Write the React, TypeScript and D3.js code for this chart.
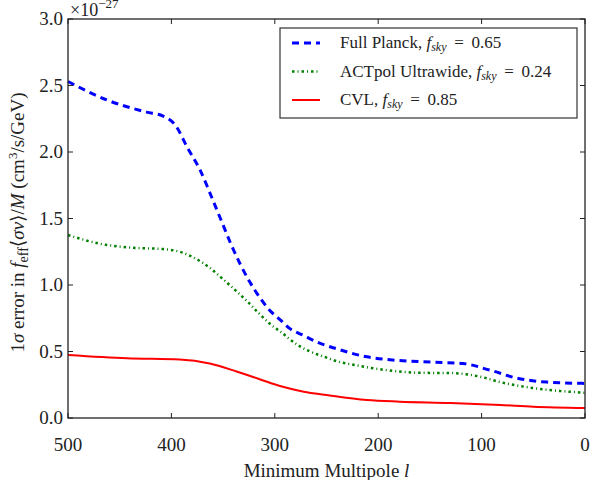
import { useEffect, useRef } from 'react';
import * as d3 from 'd3';

// minimum multipole vs 1-sigma error (units of 1e-27 cm^3/s/GeV)
const planckL = [500, 462, 424, 408, 396, 385, 372, 360, 351, 342, 333, 324, 314, 305, 295, 285, 272, 259, 240, 211, 186, 147, 118, 92, 66, 37, 0];
const planckErr = [2.53, 2.39, 2.30, 2.27, 2.20, 2.04, 1.86, 1.64, 1.47, 1.30, 1.15, 1.02, 0.90, 0.81, 0.74, 0.67, 0.62, 0.57, 0.52, 0.46, 0.436, 0.42, 0.41, 0.36, 0.30, 0.27, 0.26];

const actL = [500, 469, 437, 408, 392, 377, 363, 351, 338, 327, 317, 305, 293, 280, 266, 252, 237, 224, 192, 160, 130, 101, 82, 50, 0];
const actErr = [1.376, 1.31, 1.28, 1.27, 1.25, 1.20, 1.13, 1.05, 0.96, 0.88, 0.80, 0.71, 0.64, 0.56, 0.50, 0.46, 0.42, 0.40, 0.36, 0.34, 0.338, 0.31, 0.27, 0.225, 0.19];

const cvlL = [500, 443, 392, 363, 337, 314, 295, 272, 250, 211, 179, 130, 82, 50, 0];
const cvlErr = [0.474, 0.449, 0.44, 0.41, 0.35, 0.29, 0.24, 0.198, 0.173, 0.135, 0.123, 0.113, 0.098, 0.085, 0.075];

const xTicks = [500, 400, 300, 200, 100, 0];
const yTicks = [0, 0.5, 1.0, 1.5, 2.0, 2.5, 3.0];

const series = [
  { name: 'Full Planck, ', fsky: '0.65', l: planckL, v: planckErr, color: '#0000ff', width: 3, dash: '7,5' },
  { name: 'ACTpol Ultrawide, ', fsky: '0.24', l: actL, v: actErr, color: '#008000', width: 2.5, dash: '2.5,3,1,3' },
  { name: 'CVL, ', fsky: '0.85', l: cvlL, v: cvlErr, color: '#ff0000', width: 2, dash: null },
];

const FONT = '"Liberation Serif", "Times New Roman", "DejaVu Serif", serif';
const INK = '#222';

export default function App() {
  const svgRef = useRef<SVGSVGElement>(null);

  useEffect(() => {
    if (!svgRef.current) return;
    const svg = d3.select(svgRef.current);
    svg.selectAll('*').remove();

    const m = { l: 68, r: 22, t: 19, b: 62 };
    const W = 607, H = 480;
    const iw = W - m.l - m.r, ih = H - m.t - m.b;

    const x = d3.scaleLinear().domain([500, 0]).range([0, iw]);
    const y = d3.scaleLinear().domain([0, 3]).range([ih, 0]);

    const g = svg.append('g').attr('transform', `translate(${m.l},${m.t})`);

    // curves
    series.forEach(s => {
      const pts = s.l.map((l, i) => [l, s.v[i]] as [number, number]);
      const line = d3.line<[number, number]>().x(d => x(d[0])).y(d => y(d[1])).curve(d3.curveMonotoneX);
      const p = g.append('path').datum(pts).attr('d', line)
        .attr('fill', 'none').attr('stroke', s.color).attr('stroke-width', s.width);
      if (s.dash) p.attr('stroke-dasharray', s.dash);
    });

    // frame
    g.append('rect').attr('width', iw).attr('height', ih)
      .attr('fill', 'none').attr('stroke', INK).attr('stroke-width', 1.3);

    // inward ticks on all sides
    const tk = 5;
    xTicks.forEach(t => {
      g.append('line').attr('x1', x(t)).attr('x2', x(t)).attr('y1', ih).attr('y2', ih - tk).attr('stroke', INK);
      g.append('line').attr('x1', x(t)).attr('x2', x(t)).attr('y1', 0).attr('y2', tk).attr('stroke', INK);
      g.append('text').attr('x', x(t)).attr('y', ih + 33).attr('text-anchor', 'middle')
        .attr('font-family', FONT).attr('font-size', 19).attr('fill', INK).text(String(t));
    });
    yTicks.forEach(t => {
      g.append('line').attr('x1', 0).attr('x2', tk).attr('y1', y(t)).attr('y2', y(t)).attr('stroke', INK);
      g.append('line').attr('x1', iw).attr('x2', iw - tk).attr('y1', y(t)).attr('y2', y(t)).attr('stroke', INK);
      g.append('text').attr('x', -5).attr('y', y(t) + 6).attr('text-anchor', 'end')
        .attr('font-family', FONT).attr('font-size', 19).attr('fill', INK).text(t.toFixed(1));
    });

    // offset multiplier above the y axis
    const off = svg.append('text').attr('x', m.l + 2).attr('y', 16)
      .attr('font-family', FONT).attr('font-size', 18).attr('fill', INK);
    off.append('tspan').text('×10');
    off.append('tspan').attr('dy', -8).attr('font-size', 13).text('−27');

    // x label
    const xl = svg.append('text').attr('x', m.l + iw / 2).attr('y', H - 3).attr('text-anchor', 'middle')
      .attr('font-family', FONT).attr('font-size', 19).attr('fill', INK);
    xl.append('tspan').text('Minimum Multipole ');
    xl.append('tspan').attr('font-style', 'italic').text('l');

    // y label
    const yl = svg.append('text').attr('transform', `translate(24,${m.t + ih / 2 + 4}) rotate(-90)`)
      .attr('text-anchor', 'middle').attr('font-family', FONT).attr('font-size', 19).attr('fill', INK);
    yl.append('tspan').text('1');
    yl.append('tspan').attr('font-style', 'italic').text('σ');
    yl.append('tspan').text(' error in ');
    yl.append('tspan').attr('font-style', 'italic').text('f');
    yl.append('tspan').attr('dy', 4).attr('font-size', 14).text('eff');
    yl.append('tspan').attr('dy', -4).text('⟨');
    yl.append('tspan').attr('font-style', 'italic').text('σv');
    yl.append('tspan').text('⟩/');
    yl.append('tspan').attr('font-style', 'italic').text('M');
    yl.append('tspan').text('  (cm');
    yl.append('tspan').attr('dy', -7).attr('font-size', 13).text('3');
    yl.append('tspan').attr('dy', 7).text('/s/GeV)');

    // legend
    const lg = svg.append('g').attr('transform', 'translate(280,28)');
    lg.append('rect').attr('width', 297).attr('height', 90)
      .attr('fill', '#fff').attr('stroke', '#333').attr('stroke-width', 1.2);
    series.forEach((s, i) => {
      const cy = 15 + i * 28.5;
      const ln = lg.append('line').attr('x1', 12).attr('x2', 40).attr('y1', cy).attr('y2', cy)
        .attr('stroke', s.color).attr('stroke-width', s.width);
      if (s.dash) ln.attr('stroke-dasharray', s.dash);
      const tx = lg.append('text').attr('x', 60).attr('y', cy + 5)
        .attr('font-family', FONT).attr('font-size', 17).attr('fill', INK);
      tx.append('tspan').text(s.name);
      tx.append('tspan').attr('font-style', 'italic').text('f');
      tx.append('tspan').attr('font-style', 'italic').attr('font-size', 12).attr('dy', 3).text('sky');
      tx.append('tspan').attr('dy', -3).text('\u2009 = \u2009' + s.fsky);
    });
  }, []);

  return (
    <svg ref={svgRef} width={607} height={480}
      style={{ position: 'absolute', left: 0, top: 0, background: '#fff' }} />
  );
}
